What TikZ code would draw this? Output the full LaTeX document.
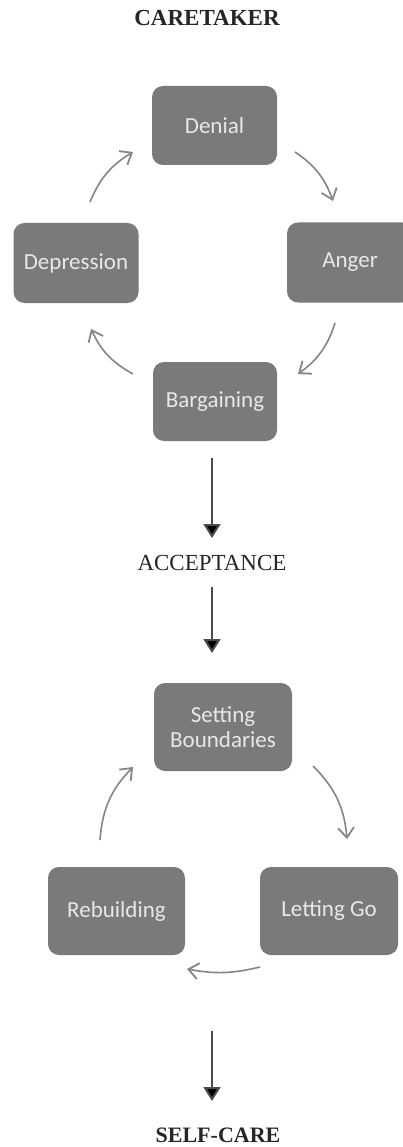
\documentclass[tikz,border=0pt]{standalone}
\usepackage{fontspec}
\setmainfont{Liberation Serif}
\newfontfamily\boxfont{Carlito}
\usetikzlibrary{arrows.meta}
\definecolor{boxgray}{HTML}{7A7A7A}
\definecolor{boxtext}{HTML}{E8E8E8}
\definecolor{arrgray}{HTML}{858585}
\tikzset{
  stage/.style={draw=none, fill=boxgray, rounded corners=11pt, text=boxtext,
    font=\boxfont\fontsize{23}{25}\selectfont, align=center, inner sep=0pt},
  cyc/.style={draw=arrgray, line width=1.6pt, -{Straight Barb[length=10pt,width=16pt,line width=1.8pt]}},
  down/.style={draw=black!70, line width=2pt, -{Triangle[length=14pt,width=17pt,fill=black]}},
  title/.style={font=\fontsize{23}{26}\selectfont, text=black!85, inner sep=0pt},
}
\begin{document}
\begin{tikzpicture}[x=1pt,y=-1pt]
\clip (0,0) rectangle (403,1147);
\fill[white] (0,0) rectangle (403,1147);

\node[title, font=\bfseries\fontsize{23}{26}\selectfont] (care) at (207,18) {CARETAKER};

\node[stage, minimum width=125pt, minimum height=79pt] (denial) at (214.5,125.5) {Denial};
\node[stage, minimum width=125pt, minimum height=80pt] (depr) at (76,263) {Depression};
\node[stage, minimum width=126pt, minimum height=80pt] (anger) at (350,262.5) {Anger};
\node[stage, minimum width=124pt, minimum height=79pt] (barg) at (215,401.5) {Bargaining};

\coordinate (a1) at (295,152); \coordinate (a2) at (333,201);
\coordinate (b1) at (335,323); \coordinate (b2) at (298,374);
\coordinate (c1) at (133,374); \coordinate (c2) at (91,329);
\coordinate (d1) at (90,202);  \coordinate (d2) at (133,152);
\draw[cyc] (a1) to[bend left=18] (a2);
\draw[cyc] (b1) to[bend left=18] (b2);
\draw[cyc] (c1) to[bend left=18] (c2);
\draw[cyc] (d1) to[bend left=18] (d2);

\node[title] (acc) at (212,563) {ACCEPTANCE};
\coordinate (e1) at (212,458); \coordinate (e2) at (212,538);
\draw[down] (e1) -- (e2);
\coordinate (f1) at (212,587); \coordinate (f2) at (212,653);
\draw[down] (f1) -- (f2);

\node[stage, minimum width=138pt, minimum height=88pt] (sb) at (223,727) {Setting\\Boundaries};
\node[stage, minimum width=137pt, minimum height=88pt] (reb) at (116.5,911) {Rebuilding};
\node[stage, minimum width=138pt, minimum height=88pt] (lg) at (329,911) {Letting Go};

\coordinate (g1) at (313,766); \coordinate (g2) at (347,839);
\coordinate (h1) at (260,967); \coordinate (h2) at (187,969);
\coordinate (i1) at (100,840); \coordinate (i2) at (133,767);
\draw[cyc] (g1) to[bend left=20] (g2);
\draw[cyc] (h1) to[bend left=12] (h2);
\draw[cyc] (i1) to[bend left=20] (i2);

\node[title, font=\bfseries\fontsize{22}{25}\selectfont, anchor=base] (self) at (218,1142) {SELF-CARE};
\coordinate (j1) at (212,1031);
\coordinate (j2) at (212,1101);
\draw[down] (j1) -- (j2);
\end{tikzpicture}
\end{document}
